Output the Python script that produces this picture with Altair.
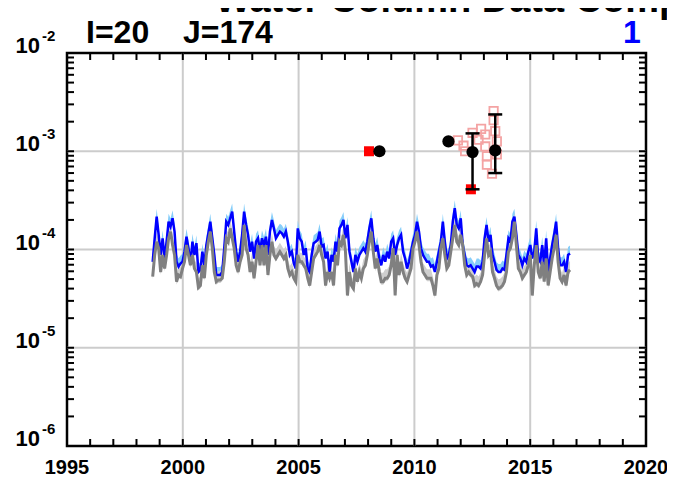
import altair as alt
import pandas as pd
import numpy as np

# ---------------- data ----------------
# monthly-ish model series, units of 1e-4
BLUE = [0.75,1.30,2.16,1.41,0.88,1.30,0.81,1.20,1.92,1.71,2.08,1.52,0.75,0.67,0.72,0.75,0.95,1.35,1.03,0.72,
        1.20,0.88,1.16,0.59,0.62,0.95,0.69,1.11,1.46,1.92,1.30,0.88,0.55,0.55,0.55,0.59,1.03,1.92,1.78,2.08,
        2.43,1.52,0.95,0.75,0.95,1.41,2.43,1.78,1.41,0.95,1.20,0.81,1.20,
        1.30,0.95,1.30,1.11,1.35,0.88,1.52,2.00,1.64,1.30,1.41,1.52,1.46,1.35,1.52,1.20,0.88,0.95,0.72,0.64,
        1.64,1.30,1.20,0.88,1.03,0.64,0.59,0.88,1.16,1.20,1.25,1.52,1.07,1.11,0.81,0.95,0.59,0.88,0.75,1.20,
        0.95,1.64,1.78,2.00,1.30,1.78,0.95,0.75,0.59,0.88,0.75,0.88,0.95,1.03,
        0.95,1.20,1.64,2.08,1.30,0.95,1.11,0.81,0.69,0.88,0.75,0.95,0.81,1.20,1.30,0.88,1.11,1.30,1.41,0.95,
        0.81,0.64,0.75,0.95,1.20,1.41,1.92,1.52,1.03,0.88,0.81,0.75,0.75,0.67,0.69,0.59,0.75,0.95,1.20,1.92,
        1.20,0.81,0.88,1.11,1.92,2.63,1.78,1.64,2.08,1.11,0.88,0.69,0.67,0.69,
        0.64,0.59,0.67,0.67,0.64,0.75,1.30,1.78,1.20,1.41,0.88,0.75,0.62,0.59,0.59,0.64,0.62,0.88,1.30,1.20,
        1.92,2.16,1.41,0.88,0.81,0.69,0.81,0.75,0.95,1.11,0.81,0.95,1.64,0.81,0.75,1.11,0.69,1.30,0.59,0.81,
        1.11,1.41,1.92,1.03,0.69,0.69,0.75,0.59,0.88,0.91]
GRAY = [0.53,0.88,1.20,1.03,0.59,0.88,0.64,0.88,1.30,1.52,1.11,0.88,0.47,0.55,0.53,0.64,0.75,1.11,0.88,0.69,
        0.88,0.64,0.59,0.41,0.43,0.69,0.51,0.88,1.20,1.52,1.03,0.59,0.47,0.49,0.49,0.51,0.75,1.30,1.20,1.64,
        1.30,1.03,0.69,0.59,0.75,0.88,1.78,1.03,0.88,0.59,0.75,0.51,0.75,
        1.11,0.69,1.11,0.69,1.11,0.55,0.88,1.20,0.88,0.81,0.88,0.95,0.88,0.81,0.88,0.64,0.55,0.59,0.51,0.47,
        0.88,0.75,0.75,0.69,0.64,0.51,0.43,0.59,0.81,0.88,0.95,1.11,0.88,0.75,0.43,0.59,0.51,0.59,0.43,0.88,
        0.69,1.20,1.11,1.41,0.95,0.34,0.59,0.43,0.40,0.64,0.47,0.59,0.51,0.64,
        0.69,0.88,1.20,1.52,0.95,0.64,0.81,0.59,0.47,0.47,0.51,0.51,0.55,0.69,1.03,0.34,0.88,0.55,0.75,0.59,
        0.51,0.47,0.55,0.64,1.03,1.20,1.52,1.11,0.75,0.59,0.55,0.51,0.51,0.51,0.43,0.34,0.55,0.64,1.03,1.30,
        0.88,0.64,0.69,0.95,1.30,1.78,1.20,1.11,1.41,1.11,0.69,0.55,0.59,0.55,
        0.53,0.43,0.45,0.43,0.47,0.55,0.88,1.30,0.88,0.95,0.59,0.51,0.43,0.40,0.41,0.43,0.47,0.59,0.95,1.03,
        1.30,1.92,1.11,0.64,0.59,0.51,0.55,0.59,0.69,0.88,0.34,0.69,1.11,0.59,0.51,0.75,0.47,0.81,0.43,0.59,
        0.81,1.03,1.41,0.75,0.51,0.47,0.55,0.43,0.59,0.62]
T_START, T_END = 1998.70, 2016.72

# observations
RED_X = [2008.04, 2012.44]
RED_Y = [1.0e-3, 4.1e-4]
PINK_X = [2011.88, 2012.12, 2012.19, 2012.51, 2012.88, 2013.06, 2013.42, 2013.42,
          2013.49, 2013.56, 2013.06, 2013.13, 2013.13, 2013.35, 2013.56, 2012.77]
PINK_Y = [1.29e-3, 1.14e-3, 1.0e-3, 1.54e-3, 1.69e-3, 1.48e-3, 2.56e-3, 2.07e-3,
          1.60e-3, 1.26e-3, 1.12e-3, 8.9e-4, 7.3e-4, 5.9e-4, 9.3e-4, 1.31e-3]
DOT_X = [2008.49, 2011.47, 2012.51, 2013.49]
DOT_Y = [1.0e-3, 1.26e-3, 0.98e-3, 1.02e-3]
ERR_X = [2012.51, 2013.49]
ERR_LO = [4.1e-4, 6.0e-4]
ERR_HI = [1.52e-3, 2.37e-3]

X_LABELS = [1995, 2000, 2005, 2010, 2015, 2020]
X_GRID = [2000, 2005, 2010, 2015]
X_TICKS = list(range(1995, 2021))
Y_DECADES = [-6, -5, -4, -3, -2]
Y_GRID = [1e-5, 1e-4, 1e-3]
Y_MANT = [1, 2, 3, 4, 5, 6, 7, 8, 9]

TITLE = "Water Column Data Comparison"
LEFT_TAG = "I=20"
MID_TAG = "J=174"
RIGHT_TAG = "1"

# ---------------- build ----------------
FONT = "Liberation Sans"
W, H = 579, 393
xs = alt.Scale(domain=[1995, 2020], nice=False, zero=False)
ys = alt.Scale(type="log", domain=[1e-6, 1e-2], nice=False)

n = len(BLUE)
series = pd.DataFrame({
    "t": np.linspace(T_START, T_END, n),
    "blue": np.array(BLUE) * 1e-4,
    "gray": np.array(GRAY[:n]) * 1e-4,
})

# grid lines
xg = pd.DataFrame({"g": X_GRID})
grid_x = alt.Chart(xg).mark_rule(color="#cccccc", strokeWidth=2).encode(
    x=alt.X("g:Q", scale=xs, axis=None), y=alt.value(0), y2=alt.value(H))
yg = pd.DataFrame({"g": Y_GRID})
grid_y = alt.Chart(yg).mark_rule(color="#cccccc", strokeWidth=2).encode(
    y=alt.Y("g:Q", scale=ys, axis=None), x=alt.value(0), x2=alt.value(W))

X = alt.X("t:Q", scale=xs, axis=None)
blue_band = alt.Chart(series).mark_area(color="#87cefa", yOffset=-8, y2Offset=0).encode(
    x=X, y=alt.Y("blue:Q", scale=ys, axis=None), y2="blue:Q")
gray_band = alt.Chart(series).mark_area(color="#cfcfcf", yOffset=-9, y2Offset=3).encode(
    x=X, y=alt.Y("gray:Q", scale=ys, axis=None), y2="gray:Q")
blue_line = alt.Chart(series).mark_line(color="#0000ff", strokeWidth=2.5).encode(
    x=X, y=alt.Y("blue:Q", scale=ys, axis=None))
gray_line = alt.Chart(series).mark_line(color="#808080", strokeWidth=3).encode(
    x=X, y=alt.Y("gray:Q", scale=ys, axis=None))

red_df = pd.DataFrame({"x": RED_X, "y": RED_Y})
red = alt.Chart(red_df).mark_square(color="#ff0000", size=100, opacity=1).encode(
    x=alt.X("x:Q", scale=xs, axis=None), y=alt.Y("y:Q", scale=ys, axis=None))
pink_df = pd.DataFrame({"x": PINK_X, "y": PINK_Y})
pink = alt.Chart(pink_df).mark_square(filled=False, color="#f4a3a3", size=70, strokeWidth=1.8, opacity=1).encode(
    x=alt.X("x:Q", scale=xs, axis=None), y=alt.Y("y:Q", scale=ys, axis=None))
err_df = pd.DataFrame({"x": ERR_X, "lo": ERR_LO, "hi": ERR_HI})
err = alt.Chart(err_df).mark_rule(color="black", strokeWidth=2.5).encode(
    x=alt.X("x:Q", scale=xs, axis=None), y=alt.Y("lo:Q", scale=ys, axis=None), y2="hi:Q")
cap_lo = alt.Chart(err_df).mark_rule(color="black", strokeWidth=2.5, xOffset=-7, x2Offset=7).encode(
    x=alt.X("x:Q", scale=xs, axis=None), x2="x:Q", y=alt.Y("lo:Q", scale=ys, axis=None))
cap_hi = alt.Chart(err_df).mark_rule(color="black", strokeWidth=2.5, xOffset=-7, x2Offset=7).encode(
    x=alt.X("x:Q", scale=xs, axis=None), x2="x:Q", y=alt.Y("hi:Q", scale=ys, axis=None))
dot_df = pd.DataFrame({"x": DOT_X, "y": DOT_Y})
dots = alt.Chart(dot_df).mark_circle(color="black", size=150, opacity=1).encode(
    x=alt.X("x:Q", scale=xs, axis=None), y=alt.Y("y:Q", scale=ys, axis=None))

# ticks (inward)
xt = pd.DataFrame({"yr": X_TICKS})
xt_bot = alt.Chart(xt).mark_rule(color="black", strokeWidth=2).encode(
    x=alt.X("yr:Q", scale=xs, axis=None), y=alt.value(H), y2=alt.value(H - 7))
xt_top = alt.Chart(xt).mark_rule(color="black", strokeWidth=2).encode(
    x=alt.X("yr:Q", scale=xs, axis=None), y=alt.value(0), y2=alt.value(7))
yt = pd.DataFrame({"v": [m * 10.0 ** d for d in Y_DECADES[:-1] for m in Y_MANT] + [1e-2]})
yt_left = alt.Chart(yt).mark_rule(color="black", strokeWidth=2).encode(
    y=alt.Y("v:Q", scale=ys, axis=None), x=alt.value(0), x2=alt.value(7))
yt_right = alt.Chart(yt).mark_rule(color="black", strokeWidth=2).encode(
    y=alt.Y("v:Q", scale=ys, axis=None), x=alt.value(W), x2=alt.value(W - 7))

# labels
xl = pd.DataFrame({"yr": X_LABELS, "lab": [str(v) for v in X_LABELS]})
x_labels = alt.Chart(xl).mark_text(font=FONT, fontSize=20, fontWeight="bold", baseline="alphabetic",
                                   align="center", color="black").encode(
    x=alt.X("yr:Q", scale=xs, axis=None), y=alt.value(H + 28), text="lab:N")
yl = pd.DataFrame({"v": [10.0 ** d for d in Y_DECADES], "base": ["10"] * len(Y_DECADES),
                   "exp": [str(d) for d in Y_DECADES]})
y_base = alt.Chart(yl).mark_text(font=FONT, fontSize=22, fontWeight="bold", baseline="alphabetic",
                                 align="right", color="black").encode(
    x=alt.value(-27), y=alt.Y("v:Q", scale=ys, axis=None), text="base:N")
y_exp = alt.Chart(yl).mark_text(font=FONT, fontSize=15, fontWeight="bold", baseline="alphabetic",
                                align="left", color="black", dy=-12).encode(
    x=alt.value(-25), y=alt.Y("v:Q", scale=ys, axis=None), text="exp:N")

one = pd.DataFrame({"a": [0]})
title = alt.Chart(one).mark_text(font=FONT, fontSize=38, fontWeight="bold", baseline="alphabetic",
                                 align="left", color="black", text=TITLE).encode(
    x=alt.value(148), y=alt.value(-41))
tag1 = alt.Chart(one).mark_text(font=FONT, fontSize=32, fontWeight="bold", baseline="alphabetic",
                                align="left", color="black", text=LEFT_TAG).encode(
    x=alt.value(19), y=alt.value(-10))
tag2 = alt.Chart(one).mark_text(font=FONT, fontSize=32, fontWeight="bold", baseline="alphabetic",
                                align="left", color="black", text=MID_TAG).encode(
    x=alt.value(116), y=alt.value(-10))
tag3 = alt.Chart(one).mark_text(font=FONT, fontSize=32, fontWeight="bold", baseline="alphabetic",
                                align="center", color="#0000ff", text=RIGHT_TAG).encode(
    x=alt.value(565), y=alt.value(-10))

chart = alt.layer(
    grid_x, grid_y, blue_band, gray_band, blue_line, gray_line,
    red, pink, err, cap_lo, cap_hi, dots,
    xt_bot, xt_top, yt_left, yt_right,
    x_labels, y_base, y_exp, title, tag1, tag2, tag3,
).properties(
    width=W, height=H,
    autosize=alt.AutoSizeParams(type="none"),
    padding={"left": 59, "top": 45, "right": 21, "bottom": 31},
).configure_view(stroke="black", strokeWidth=2.5)

chart.save("out.html", embed_options={"renderer": "svg", "actions": False})
